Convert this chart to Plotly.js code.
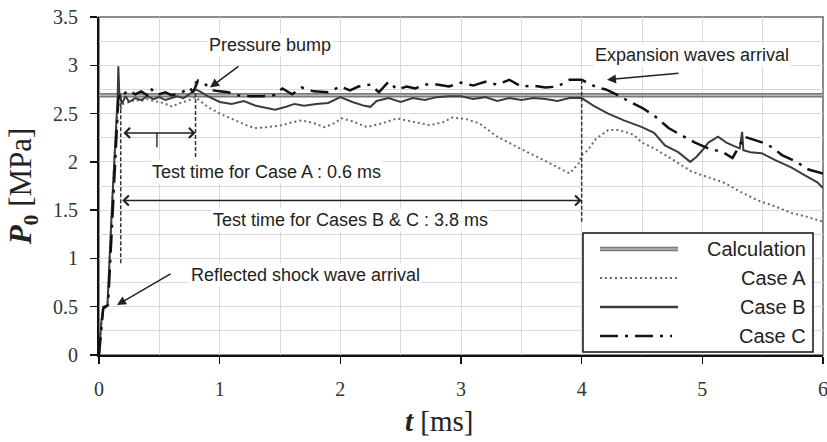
<!DOCTYPE html>
<html>
<head>
<meta charset="utf-8">
<script src="https://cdn.plot.ly/plotly-3.0.1.min.js"></script>
<style>html,body{margin:0;padding:0;background:#fff;}#chart{width:827px;height:442px;}</style>
</head>
<body>
<div id="chart"></div>
<script>
// ---- Data (time in ms, pressure in MPa) ----
const calcX = [0, 6];
const calcY = [2.69, 2.69];

const caseAX = [0,0.02,0.035,0.07,0.11,0.14,0.16,0.18,0.2,0.25,0.3,0.35,0.4,0.45,0.5,0.55,0.61,0.65,0.7,0.75,0.8,0.9,1.0,1.07,1.15,1.22,1.29,1.4,1.52,1.6,1.68,1.78,1.87,1.95,2.01,2.1,2.22,2.35,2.47,2.6,2.74,2.85,2.93,3.05,3.15,3.3,3.45,3.55,3.65,3.76,3.9,3.98,4.0,4.05,4.12,4.22,4.3,4.36,4.43,4.5,4.6,4.72,4.8,4.91,5.05,5.19,5.3,5.46,5.6,5.74,5.87,6.0];
const caseAY = [0,0.35,0.5,0.51,1.6,2.3,2.6,2.55,2.6,2.62,2.64,2.63,2.65,2.63,2.62,2.6,2.57,2.6,2.62,2.64,2.67,2.57,2.5,2.46,2.42,2.38,2.35,2.36,2.38,2.41,2.43,2.4,2.36,2.4,2.45,2.42,2.36,2.4,2.45,2.42,2.38,2.41,2.46,2.44,2.4,2.26,2.16,2.1,2.04,1.97,1.88,1.99,2.07,2.12,2.24,2.33,2.33,2.31,2.28,2.2,2.14,2.05,1.99,1.9,1.84,1.78,1.7,1.6,1.54,1.47,1.43,1.38];

const caseBX = [0,0.02,0.035,0.07,0.11,0.14,0.155,0.16,0.168,0.19,0.22,0.25,0.3,0.35,0.4,0.45,0.5,0.55,0.6,0.65,0.7,0.75,0.8,0.85,0.9,1.0,1.1,1.2,1.3,1.4,1.46,1.55,1.62,1.7,1.8,1.9,2.0,2.1,2.2,2.25,2.3,2.4,2.5,2.6,2.7,2.8,2.9,3.0,3.1,3.2,3.3,3.4,3.5,3.6,3.7,3.8,3.9,4.0,4.1,4.22,4.35,4.5,4.6,4.69,4.8,4.9,4.95,5.0,5.05,5.13,5.2,5.25,5.31,5.33,5.34,5.4,5.49,5.6,5.74,5.85,5.95,6.0];
const caseBY = [0,0.35,0.5,0.51,1.6,2.3,2.68,2.99,2.72,2.6,2.68,2.62,2.66,2.64,2.68,2.65,2.67,2.64,2.66,2.68,2.66,2.7,2.75,2.72,2.68,2.62,2.6,2.63,2.58,2.55,2.54,2.57,2.6,2.58,2.6,2.61,2.67,2.62,2.58,2.57,2.63,2.66,2.62,2.66,2.64,2.67,2.68,2.68,2.65,2.67,2.63,2.66,2.64,2.66,2.65,2.63,2.66,2.66,2.58,2.5,2.43,2.36,2.3,2.17,2.1,2.0,2.05,2.12,2.2,2.26,2.2,2.17,2.14,2.31,2.12,2.1,2.09,2.02,1.94,1.86,1.79,1.73];

const caseCX = [0,0.02,0.035,0.075,0.115,0.145,0.16,0.18,0.2,0.25,0.3,0.35,0.4,0.43,0.46,0.5,0.55,0.6,0.65,0.7,0.75,0.78,0.82,0.86,0.9,0.95,1.0,1.07,1.15,1.25,1.35,1.45,1.52,1.6,1.68,1.78,1.9,2.0,2.08,2.15,2.25,2.32,2.4,2.47,2.55,2.62,2.7,2.8,2.9,3.0,3.1,3.2,3.3,3.4,3.5,3.6,3.7,3.8,3.9,4.0,4.03,4.13,4.2,4.3,4.4,4.5,4.6,4.72,4.82,4.94,5.05,5.17,5.25,5.35,5.5,5.58,5.66,5.78,5.88,6.0];
const caseCY = [0,0.3,0.48,0.52,1.5,2.3,2.65,2.72,2.7,2.74,2.7,2.73,2.69,2.76,2.71,2.7,2.72,2.69,2.7,2.73,2.77,2.72,2.84,2.82,2.78,2.74,2.73,2.72,2.69,2.68,2.68,2.69,2.76,2.7,2.77,2.73,2.72,2.78,2.74,2.78,2.8,2.72,2.83,2.75,2.78,2.76,2.8,2.8,2.78,2.82,2.79,2.83,2.8,2.85,2.78,2.79,2.77,2.78,2.85,2.85,2.83,2.77,2.75,2.69,2.62,2.56,2.48,2.35,2.28,2.2,2.14,2.1,2.04,2.26,2.2,2.15,2.07,2.0,1.92,1.88];

const legendLabels = ["Calculation", "Case A", "Case B", "Case C"];
const xTicks = [0,1,2,3,4,5,6];
const yTicks = [0,0.5,1,1.5,2,2.5,3,3.5];

// ---- Styles ----
const sans = "Liberation Sans, Arial, sans-serif";
const serif = "Liberation Serif, Times New Roman, serif";
const dashC = "18px,7px,3px,7px";
const dotA = "2px,3px";

const traces = [
  {x: calcX, y: calcY, mode: "lines", line: {color: "#7a7a7a", width: 4.5}, hoverinfo: "skip"},
  {x: calcX, y: calcY, mode: "lines", line: {color: "#b4b4b4", width: 1.5}, hoverinfo: "skip"},
  {x: caseAX, y: caseAY, mode: "lines", line: {color: "#6a6a6a", width: 2, dash: dotA}},
  {x: caseBX, y: caseBY, mode: "lines", line: {color: "#3c3c3c", width: 2}},
  {x: caseCX, y: caseCY, mode: "lines", line: {color: "#111", width: 2.5, dash: dashC}}
];

// legend rows (paper coords)
const rowY = [0.3136, 0.2278, 0.1420, 0.0562];
const lx0 = (600-99)/724, lx1 = (678-99)/724;
const shapes = [
  {type:"rect", xref:"paper", yref:"paper", x0:0, x1:1, y0:0, y1:1, line:{color:"#8c8c8c", width:2}, layer:"below"},
  // test-time dashed markers
  {type:"line", xref:"x", yref:"y", x0:0.18, x1:0.18, y0:0.95, y1:2.7, line:{color:"#333", width:1.5, dash:"4px,2px"}},
  {type:"line", xref:"x", yref:"y", x0:0.8, x1:0.8, y0:2.05, y1:2.85, line:{color:"#333", width:1.5, dash:"4px,2px"}},
  {type:"line", xref:"x", yref:"y", x0:4.0, x1:4.0, y0:1.38, y1:2.85, line:{color:"#333", width:1.5, dash:"4px,2px"}},
  {type:"line", xref:"x", yref:"y", x0:0.48, x1:0.48, y0:2.30, y1:2.15, line:{color:"#333", width:1.5}},
  // legend box
  {type:"rect", xref:"paper", yref:"paper", x0:0.6685, x1:0.9862, y0:0.0089, y1:0.361, fillcolor:"#fff", line:{color:"#111", width:1.5}},
  {type:"line", xref:"paper", yref:"paper", x0:lx0, x1:lx1, y0:rowY[0], y1:rowY[0], line:{color:"#7a7a7a", width:4.5}},
  {type:"line", xref:"paper", yref:"paper", x0:lx0, x1:lx1, y0:rowY[0], y1:rowY[0], line:{color:"#b4b4b4", width:1.5}},
  {type:"line", xref:"paper", yref:"paper", x0:lx0, x1:lx1, y0:rowY[1], y1:rowY[1], line:{color:"#6a6a6a", width:2, dash:dotA}},
  {type:"line", xref:"paper", yref:"paper", x0:lx0, x1:lx1, y0:rowY[2], y1:rowY[2], line:{color:"#3c3c3c", width:2.5}},
  {type:"line", xref:"paper", yref:"paper", x0:lx0, x1:(672-99)/724, y0:rowY[3], y1:rowY[3], line:{color:"#111", width:2.5, dash:dashC}}
];

const txtFont = {family: sans, size: 18, color: "#222"};
const annotations = [
  {x:1.417, y:3.21, text:"Pressure bump", showarrow:false, font:txtFont, bgcolor:"#fff"},
  {x:0.92, y:2.77, ax:1.168, ay:3.0, axref:"x", ayref:"y", text:"", showarrow:true, arrowhead:2, arrowsize:1.2, arrowwidth:1.5, arrowcolor:"#222"},
  {x:4.914, y:3.106, text:"Expansion waves arrival", showarrow:false, font:txtFont, bgcolor:"#fff"},
  {x:4.21, y:2.85, ax:4.815, ay:2.92, axref:"x", ayref:"y", text:"", showarrow:true, arrowhead:2, arrowsize:1.2, arrowwidth:1.5, arrowcolor:"#222"},
  {x:1.392, y:1.894, text:"Test time for Case A : 0.6 ms", showarrow:false, font:txtFont, bgcolor:"#fff"},
  {x:2.088, y:1.398, text:"Test time for Cases B &amp; C : 3.8 ms", showarrow:false, font:txtFont, bgcolor:"#fff"},
  {x:1.715, y:0.828, text:"Reflected shock wave arrival", showarrow:false, font:txtFont, bgcolor:"#fff"},
  {x:0.149, y:0.518, ax:0.605, ay:0.849, axref:"x", ayref:"y", text:"", showarrow:true, arrowhead:2, arrowsize:1.2, arrowwidth:1.5, arrowcolor:"#222"},
  {x:0.8, y:2.30, ax:0.19, ay:2.30, axref:"x", ayref:"y", text:"", showarrow:true, arrowside:"end+start", arrowhead:4, startarrowhead:4, arrowsize:1.3, startarrowsize:1.3, arrowwidth:1.5, arrowcolor:"#222"},
  {x:4.0, y:1.60, ax:0.18, ay:1.60, axref:"x", ayref:"y", text:"", showarrow:true, arrowside:"end+start", arrowhead:4, startarrowhead:4, arrowsize:1.3, startarrowsize:1.3, arrowwidth:1.5, arrowcolor:"#222"}
];
legendLabels.forEach((t, i) => {
  annotations.push({xref:"paper", yref:"paper", x:0.9793, y:rowY[i], xanchor:"right", yanchor:"middle", text:t, showarrow:false, font:{family:sans, size:20, color:"#222"}});
});

const layout = {
  width: 827, height: 442,
  margin: {l: 99, r: 4, t: 17, b: 87, pad: 0},
  paper_bgcolor: "#fff", plot_bgcolor: "#fff",
  showlegend: false,
  xaxis: {
    range: [0, 6], tickvals: xTicks, ticktext: xTicks.map(String),
    showgrid: true, gridcolor: "#d9d9d9", gridwidth: 1,
    minor: {dtick: 0.5, showgrid: true, gridcolor: "#d9d9d9", gridwidth: 1},
    showline: true, linecolor: "#111", linewidth: 2,
    ticks: "outside", ticklen: 7, tickwidth: 1.5, tickcolor: "#111",
    ticklabelstandoff: 8, ticklabeloverflow: "allow",
    tickfont: {family: serif, size: 20, color: "#333"},
    zeroline: false, automargin: false,
    title: {text: "<b><i>t</i></b> [ms]&nbsp;&nbsp;&nbsp;&nbsp;&nbsp;&nbsp;", font: {family: serif, size: 29, color: "#222"}, standoff: 12}
  },
  yaxis: {
    range: [0, 3.5], tickvals: yTicks, ticktext: yTicks.map(String),
    showgrid: true, gridcolor: "#d9d9d9", gridwidth: 1,
    minor: {dtick: 0.25, showgrid: true, gridcolor: "#d9d9d9", gridwidth: 1},
    showline: true, linecolor: "#111", linewidth: 2,
    ticks: "outside", ticklen: 7, tickwidth: 1.5, tickcolor: "#111",
    ticklabelstandoff: 8,
    tickfont: {family: serif, size: 20, color: "#333"},
    zeroline: false, automargin: false,
    title: {text: "<b><i>P</i><sub>0</sub></b> [MPa]", font: {family: serif, size: 31, color: "#222"}, standoff: 12}
  },
  shapes: shapes,
  annotations: annotations
};

Plotly.newPlot("chart", traces, layout, {staticPlot: true, displayModeBar: false});
</script>
</body>
</html>
